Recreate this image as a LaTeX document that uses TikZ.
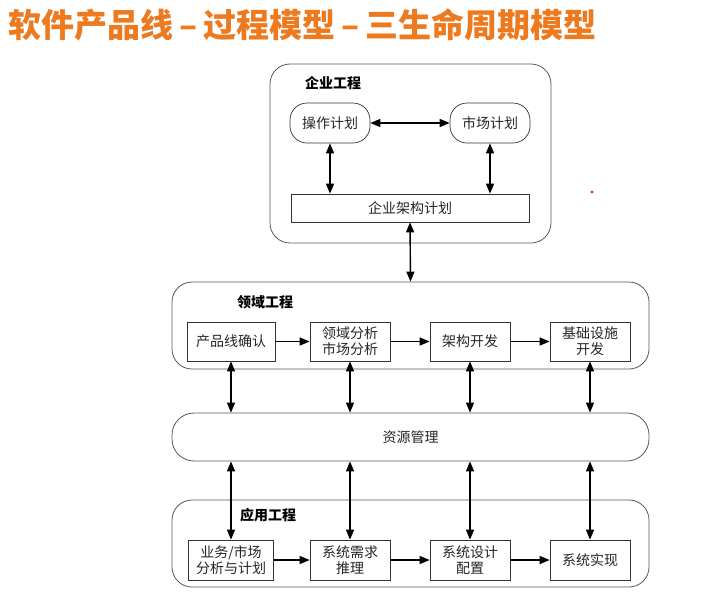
\documentclass[tikz,border=0pt]{standalone}
\usepackage{fontspec}
\setmainfont{Noto Sans CJK SC}
\usetikzlibrary{arrows.meta}
\definecolor{titelorange}{RGB}{238,122,32}

\begin{document}
\begin{tikzpicture}[x=1pt, y=-1pt,
	kasten/.style={draw=black!80, line width=0.7pt, fill=white, minimum width=80pt, minimum height=39pt,
		align=center, inner sep=1pt, text=black!85, font=\fontsize{14}{16}\selectfont},
	oval/.style={kasten, rounded corners=17pt, minimum height=40pt},
	rahmen/.style={draw=black!65, line width=0.8pt, rounded corners=20pt, minimum width=477pt},
	titel/.style={anchor=west, inner sep=0pt, font=\fontsize{14}{16}\selectfont\bfseries},
	pfeil/.style={-{Triangle[length=10pt,width=8pt]}, line width=1.4pt},
	dpfeil/.style={{Triangle[length=10pt,width=8pt]}-{Triangle[length=10pt,width=8pt]}, line width=1.4pt},
]
	\fill[white] (0,0) rectangle (722,595); % Rand um Grafik
	
	\node[anchor=west, inner sep=0pt, text=titelorange, font=\fontsize{33}{36}\selectfont\bfseries] (T) at (8,25)
		{软件产品线\hspace{6pt}–\hspace{6pt}过程模型\hspace{6pt}–\hspace{6pt}三生命周期模型};
	
	% Unternehmen
	\node[rahmen, minimum width=281pt, minimum height=179pt] (U) at (410.5,153.5) {};
	\node[titel] (Ut) at (305,83) {企业工程};
	\node[oval] (OP) at (330,123) {操作计划};
	\node[oval] (MP) at (490,123) {市场计划};
	\node[kasten, minimum width=238pt, minimum height=28pt] (AP) at (410,208) {企业架构计划};
	
	% Domaene
	\node[rahmen, minimum height=87pt] (D) at (410.5,325.5) {};
	\node[titel] (Dt) at (237,302) {领域工程};
	\node[kasten, minimum width=88pt] (D1) at (231,341.5) {产品线确认};
	\node[kasten] (D2) at (350,341.5) {领域分析\\市场分析};
	\node[kasten] (D3) at (470,341.5) {架构开发};
	\node[kasten] (D4) at (590,341.5) {基础设施\\开发};
	
	% Ressourcen
	\node[rahmen, rounded corners=22pt, minimum height=48pt, text=black!85, font=\fontsize{14}{16}\selectfont] (R) at (410.5,437) {资源管理};
	
	% Anwendung
	\node[rahmen, minimum height=87pt] (A) at (410.5,543.5) {};
	\node[titel] (At) at (240,515) {应用工程};
	\node[kasten, minimum width=85pt, minimum height=40pt] (A1) at (231,560) {业务/市场\\分析与计划};
	\node[kasten, minimum height=40pt] (A2) at (350,560) {系统需求\\推理};
	\node[kasten, minimum height=40pt] (A3) at (470,560) {系统设计\\配置};
	\node[kasten, minimum height=40pt] (A4) at (590,560) {系统实现};
	
	\draw[dpfeil] (OP) -- (MP);
	\draw[dpfeil] (OP.south) -- (OP.south |- AP.north);
	\draw[dpfeil] (MP.south) -- (MP.south |- AP.north);
	\draw[dpfeil] (AP.south) -- (D.north);
	
	\draw[pfeil] (D1) -- (D2);
	\draw[pfeil] (D2) -- (D3);
	\draw[pfeil] (D3) -- (D4);
	\draw[pfeil] (A1) -- (A2);
	\draw[pfeil] (A2) -- (A3);
	\draw[pfeil] (A3) -- (A4);
	
	\foreach \k in {1,...,4} {
		\draw[dpfeil] (D\k.south) -- (D\k.south |- R.north);
		\draw[dpfeil] (R.south -| A\k.north) -- (A\k.north);
	}
	
	\fill[red!85] (592,192) circle [radius=1.6];
	
	%\draw[help lines, step=50] (0,0) grid (722,595);
\end{tikzpicture}
\end{document}
